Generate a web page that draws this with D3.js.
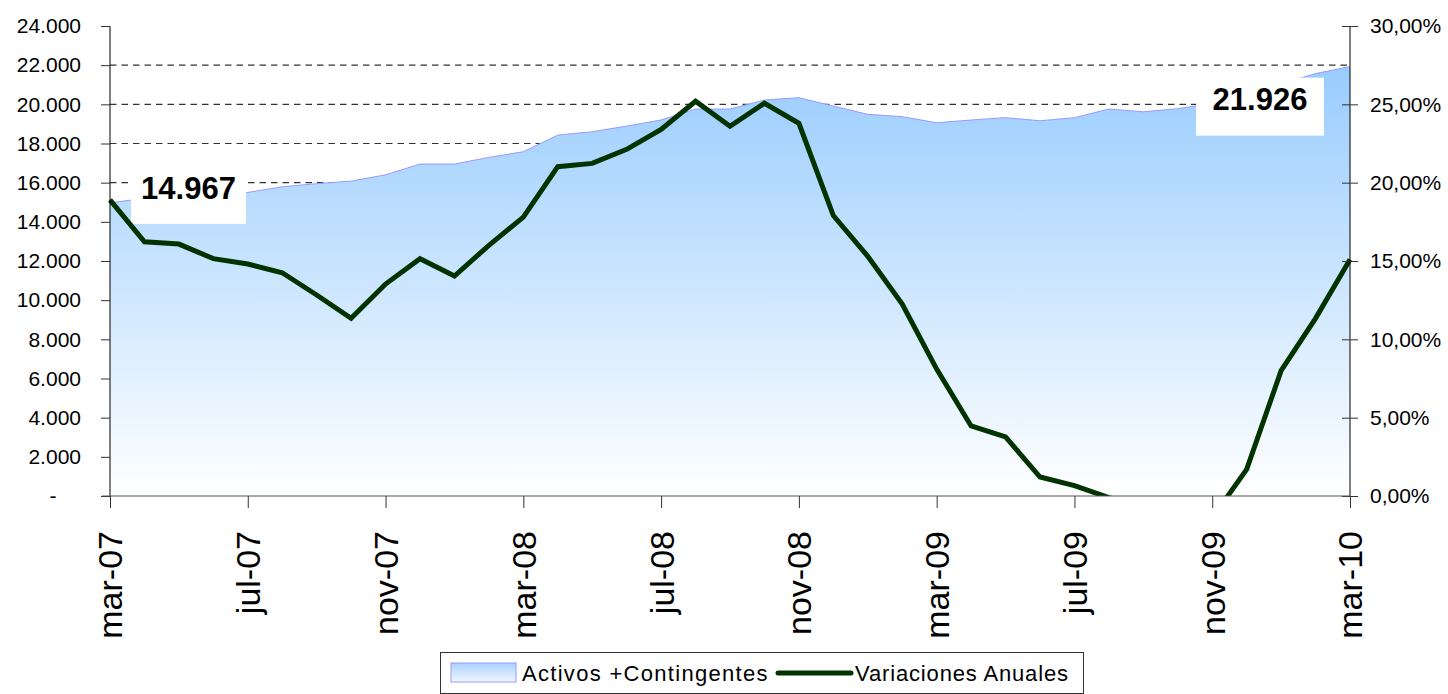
<!DOCTYPE html>
<html>
<head>
<meta charset="utf-8">
<script src="https://cdn.jsdelivr.net/npm/d3@7"></script>
<style>
  html, body { margin: 0; padding: 0; background: #fff; }
  svg { display: block; font-family: "Liberation Sans", Arial, sans-serif; }
</style>
</head>
<body>
<svg id="chart" width="1448" height="694"></svg>
<script>
const months = ["mar-07","abr-07","may-07","jun-07","jul-07","ago-07","sep-07","oct-07","nov-07","dic-07","ene-08","feb-08",
  "mar-08","abr-08","may-08","jun-08","jul-08","ago-08","sep-08","oct-08","nov-08","dic-08","ene-09","feb-09",
  "mar-09","abr-09","may-09","jun-09","jul-09","ago-09","sep-09","oct-09","nov-09","dic-09","ene-10","feb-10","mar-10"];
const activos = [14967,15200,15300,15400,15500,15790,15950,16080,16400,16950,16950,17290,
  17580,18430,18600,18890,19200,19760,19760,20220,20340,19910,19490,19370,
  19060,19200,19320,19160,19320,19760,19620,19780,20050,20250,21050,21570,21926];
const variaciones = [18.9,16.23,16.08,15.15,14.81,14.25,12.83,11.34,13.53,15.15,14.04,16.0,
  17.8,21.02,21.23,22.13,23.4,25.2,23.6,25.07,23.79,17.9,15.3,12.25,
  8.1,4.47,3.77,1.21,0.66,-0.1,-0.8,-2.0,-1.4,1.7,8.0,11.34,15.1];
const leftTicks = [0,2000,4000,6000,8000,10000,12000,14000,16000,18000,20000,22000,24000];
const rightTicks = [0,5,10,15,20,25,30];
const xTickLabels = ["mar-07","jul-07","nov-07","mar-08","jul-08","nov-08","mar-09","jul-09","nov-09","mar-10"];
const seriesNames = ["Activos +Contingentes","Variaciones Anuales"];

const svg = d3.select("#chart");
const L = 110, R = 1350, T = 26, B = 496;
const x = d3.scalePoint().domain(months).range([L, R]);
const yL = d3.scaleLinear().domain([0, 24000]).range([B, T]);
const yR = d3.scaleLinear().domain([0, 30]).range([B, T]);

const defs = svg.append("defs");
const grad = defs.append("linearGradient").attr("id","areaGrad")
  .attr("gradientUnits","userSpaceOnUse").attr("x1",0).attr("x2",0)
  .attr("y1", yL(d3.max(activos))).attr("y2", B);
grad.append("stop").attr("offset","0%").attr("stop-color","#99CCFF");
grad.append("stop").attr("offset","100%").attr("stop-color","#FFFFFF");
const lgGrad = defs.append("linearGradient").attr("id","legGrad").attr("x1",0).attr("x2",0).attr("y1",0).attr("y2",1);
lgGrad.append("stop").attr("offset","0%").attr("stop-color","#A8D0FF");
lgGrad.append("stop").attr("offset","100%").attr("stop-color","#F4F8FF");
defs.append("clipPath").attr("id","plotClip").append("rect")
  .attr("x", L - 5).attr("y", 0).attr("width", R - L + 10).attr("height", B);

const fmtThousands = d => d === 0 ? "-" : d3.format(",")(d).replace(/,/g, ".");
const fmtPct = d => d3.format(".2f")(d).replace(".", ",") + "%";

// gridlines
svg.append("g").selectAll("line").data(leftTicks.filter(d => d > 0 && d < 24000)).join("line")
  .attr("x1", L).attr("x2", R).attr("y1", d => yL(d)).attr("y2", d => yL(d))
  .attr("stroke", "#333").attr("stroke-width", 1.2).attr("stroke-dasharray", "6.5,5");

// area
const area = d3.area().x((d, i) => x(months[i])).y0(B).y1(d => yL(d));
svg.append("path").datum(activos).attr("d", area).attr("fill", "url(#areaGrad)");
svg.append("path").datum(activos)
  .attr("d", d3.line().x((d, i) => x(months[i])).y(d => yL(d)))
  .attr("fill", "none").attr("stroke", "#9999FF").attr("stroke-width", 1);

// value labels
function valueLabel(i, dx, dy, w, h, base) {
  const px = x(months[i]), py = yL(activos[i]);
  svg.append("rect").attr("x", px + dx).attr("y", py + dy).attr("width", w).attr("height", h).attr("fill", "#fff");
  svg.append("text").attr("x", px + dx + w / 2).attr("y", py + dy + base)
    .attr("text-anchor", "middle").attr("font-weight", "bold").attr("font-size", 31)
    .attr("fill", "#000").text(fmtThousands(activos[i]));
}
valueLabel(0, 21, -37, 115, 58, 33);
valueLabel(months.length - 1, -154, 11, 128, 58, 32);

// line
svg.append("g").attr("clip-path", "url(#plotClip)").append("path").datum(variaciones)
  .attr("d", d3.line().x((d, i) => x(months[i])).y(d => yR(d)))
  .attr("fill", "none").attr("stroke", "#003300").attr("stroke-width", 5).attr("stroke-linejoin", "miter");

// axes
const gL = svg.append("g").attr("transform", `translate(${L},0)`)
  .call(d3.axisLeft(yL).tickValues(leftTicks).tickSize(9).tickPadding(20).tickFormat(fmtThousands));
gL.selectAll("text").attr("font-size", 21).attr("fill", "#000").attr("font-family", "Liberation Sans, Arial, sans-serif");
gL.selectAll(".tick").filter(d => d === 0).select("text").attr("text-anchor", "middle").attr("x", -57);
gL.select(".domain").attr("stroke", "#000").attr("d", `M0,${T}V${B}`);
gL.selectAll(".tick line").attr("stroke", "#333");

const gR = svg.append("g").attr("transform", `translate(${R},0)`)
  .call(d3.axisRight(yR).tickValues(rightTicks).tickSize(8).tickPadding(12).tickFormat(fmtPct));
gR.selectAll("text").attr("font-size", 21).attr("fill", "#000").attr("font-family", "Liberation Sans, Arial, sans-serif");
gR.selectAll(".tick line").attr("x1", -8).attr("x2", 8).attr("stroke", "#333");
gR.select(".domain").attr("stroke", "#000").attr("d", `M0,${T}V${B}`);

const gX = svg.append("g").attr("transform", `translate(0,${B})`)
  .call(d3.axisBottom(x).tickValues(xTickLabels).tickSize(12));
gX.select(".domain").attr("stroke", "#555").attr("d", `M${L - 8},0H${R}`);
gX.selectAll(".tick line").attr("stroke", "#333");
gX.selectAll("text").attr("font-size", 34).attr("fill", "#000")
  .attr("font-family", "Liberation Sans, Arial, sans-serif")
  .attr("transform", "translate(0,35) rotate(-90)").attr("x", 0).attr("y", 0)
  .attr("dy", "0.35em").attr("text-anchor", "end");

// legend
const lg = svg.append("g");
lg.append("rect").attr("x", 440.5).attr("y", 652.5).attr("width", 643).attr("height", 41)
  .attr("fill", "#fff").attr("stroke", "#333");
lg.append("rect").attr("x", 451).attr("y", 663).attr("width", 65).attr("height", 19)
  .attr("fill", "url(#legGrad)").attr("stroke", "#9999FF");
lg.append("text").attr("x", 522).attr("y", 681).attr("font-size", 22).attr("letter-spacing", 1.3)
  .attr("fill", "#000").text(seriesNames[0]);
lg.append("line").attr("x1", 778).attr("x2", 851).attr("y1", 673).attr("y2", 673)
  .attr("stroke", "#003300").attr("stroke-width", 5).attr("stroke-linecap", "round");
lg.append("text").attr("x", 855).attr("y", 681).attr("font-size", 22).attr("letter-spacing", 0.85)
  .attr("fill", "#000").text(seriesNames[1]);
</script>
</body>
</html>
